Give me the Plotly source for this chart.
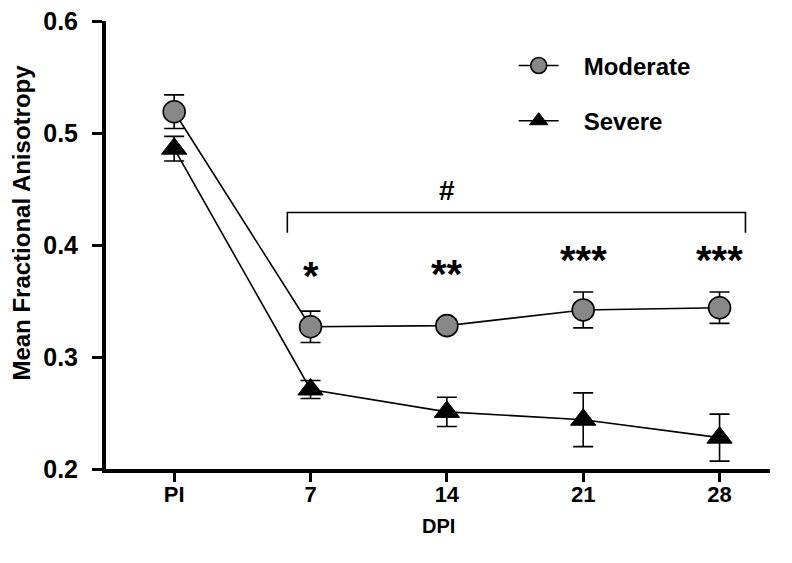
import plotly.graph_objects as go

# data
days = ["PI", "7", "14", "21", "28"]
moderate_mean = [0.519, 0.327, 0.328, 0.342, 0.344]
moderate_sem = [0.015, 0.014, 0.004, 0.016, 0.014]
severe_mean = [0.486, 0.271, 0.251, 0.244, 0.228]
severe_sem = [0.011, 0.008, 0.013, 0.024, 0.021]
stars = ["*", "**", "***", "***"]
star_y = [0.372, 0.374, 0.387, 0.387]

FONT = "Liberation Sans, Arial, sans-serif"
x_idx = list(range(len(days)))
pad = "\u00a0\u00a0\u00a0"  # pushes legend text away from the symbol

fig = go.Figure()

fig.add_trace(go.Scatter(
    x=x_idx, y=moderate_mean, name=pad + "Moderate",
    mode="lines+markers", legendgroup="m",
    line=dict(color="black", width=1.6),
    marker=dict(symbol="circle", size=22, color="#888888",
                line=dict(color="black", width=1.6)),
    error_y=dict(type="data", array=moderate_sem, color="black",
                 thickness=1.6, width=10),
))

fig.add_trace(go.Scatter(
    x=x_idx, y=severe_mean, name=pad + "Severe",
    mode="lines+markers", legendgroup="s",
    line=dict(color="black", width=1.6),
    marker=dict(symbol="triangle-up", size=22, color="black",
                line=dict(color="black", width=1)),
    error_y=dict(type="data", array=severe_sem, color="black",
                 thickness=1.6, width=10),
))

# significance stars over days 7..28
for i, s in enumerate(stars):
    fig.add_annotation(x=x_idx[i + 1], y=star_y[i], text=s, showarrow=False,
                       font=dict(family=FONT, size=40, color="black", weight="bold"),
                       yanchor="middle")

# bracket with #
fig.add_shape(type="path", path="M 0.83,0.411 L 0.83,0.429 L 4.19,0.429 L 4.19,0.411",
              line=dict(color="black", width=1.6))
fig.add_annotation(x=2.0, y=0.449, text="#", showarrow=False,
                   font=dict(family=FONT, size=28, color="black", weight="bold"))

# axis titles placed by hand
fig.add_annotation(xref="paper", yref="paper", x=-0.1265, y=0.55, textangle=-90,
                   xanchor="center", yanchor="middle",
                   text="Mean Fractional Anisotropy", showarrow=False,
                   font=dict(family=FONT, size=24, color="black", weight="bold"))
fig.add_annotation(xref="paper", yref="paper", x=0.5, y=-0.128,
                   xanchor="center", yanchor="middle",
                   text="DPI", showarrow=False,
                   font=dict(family=FONT, size=20, color="black", weight="bold"))

# page body adds 8px, so margins are shifted to compensate
fig.update_layout(
    width=792, height=563,
    margin=dict(l=98, r=30, t=13, b=102),
    plot_bgcolor="white", paper_bgcolor="white",
    font=dict(family=FONT, color="black"),
    showlegend=True,
    legend=dict(x=0.614, y=0.95, xanchor="left", yanchor="top",
                font=dict(family=FONT, size=24, weight="bold"),
                itemwidth=40,
                tracegroupgap=21, bgcolor="rgba(0,0,0,0)"),
)

fig.update_xaxes(
    range=[-0.5, 4.37], tickmode="array", tickvals=x_idx, ticktext=days,
    showline=True, linecolor="black", linewidth=4,
    ticks="outside", ticklen=9, tickwidth=3, tickcolor="black",
    showgrid=False, zeroline=False, automargin=False,
    ticklabelstandoff=-6,
    tickfont=dict(family=FONT, size=22, weight="bold"),
)

fig.update_yaxes(
    range=[0.2, 0.6], tickvals=[0.2, 0.3, 0.4, 0.5, 0.6],
    ticktext=["0.2", "0.3", "0.4", "0.5", "0.6"],
    showline=True, linecolor="black", linewidth=4,
    ticks="outside", ticklen=10, tickwidth=3, tickcolor="black",
    showgrid=False, zeroline=False, automargin=False,
    ticklabeloverflow="allow", ticklabelstandoff=9,
    tickfont=dict(family=FONT, size=25, weight="bold"),
)

fig.write_html("out.html")
